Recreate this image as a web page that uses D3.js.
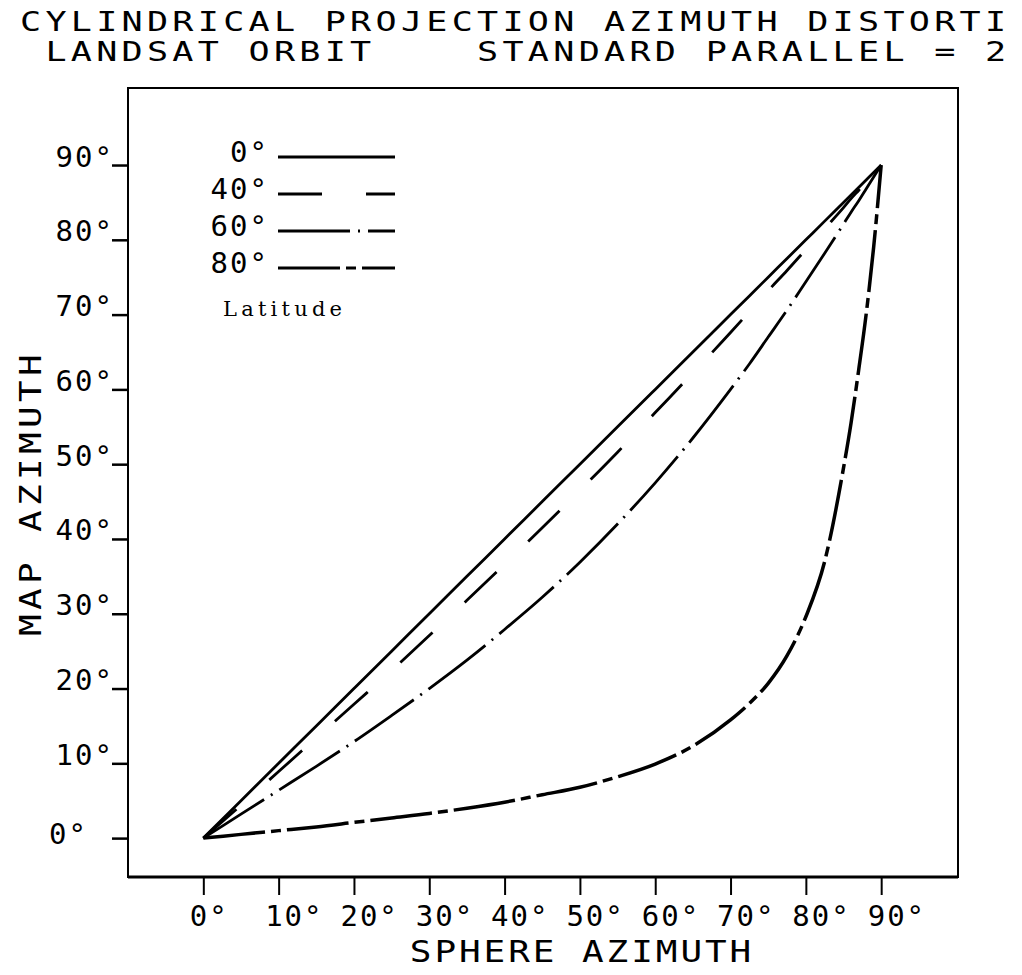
<!DOCTYPE html>
<html>
<head>
<meta charset="utf-8">
<script src="https://cdn.jsdelivr.net/npm/d3@7"></script>
<style>
  body { margin: 0; background: #fff; }
  svg { display: block; }
  text { fill: #000; }
</style>
</head>
<body>
<div id="chart"></div>
<script>
// values
var sphereAz = [0, 5, 10, 15, 20, 25, 30, 35, 40, 45, 50, 55, 60, 65, 70, 72.5, 75, 77.5, 80, 82.5, 85, 86, 87, 88, 89, 90];
var lat0  = [0, 5, 10, 15, 20, 25, 30, 35, 40, 45, 50, 55, 60, 65, 70, 72.5, 75, 77.5, 80, 82.5, 85, 86, 87, 88, 89, 90];
var lat40 = [0, 4.4, 8.9, 13.4, 17.9, 22.4, 27.1, 31.8, 36.6, 41.5, 46.5, 51.6, 56.9, 62.2, 67.6, 70.4, 73.2, 75.9, 78.7, 81.5, 84.3, 85.5, 86.6, 87.7, 88.9, 90];
var lat60 = [0, 3.2, 6.4, 9.6, 12.9, 16.4, 20.0, 23.8, 27.9, 32.2, 36.9, 42.0, 47.5, 53.5, 60.0, 63.4, 67.0, 70.6, 74.4, 78.2, 82.1, 83.7, 85.2, 86.8, 88.4, 90];
var lat80 = [0, 0.5, 1.0, 1.5, 2.1, 2.7, 3.3, 4.0, 4.8, 5.8, 6.8, 8.2, 9.9, 12.3, 15.8, 18.0, 20.7, 24.4, 29.6, 37.0, 49.5, 55.5, 62.5, 70.0, 79.0, 90];

var seriesNames = ['0\u00b0', '40\u00b0', '60\u00b0', '80\u00b0'];
var seriesDash = ['none', '44,44', '72,8,2,8', '62,6,10,6'];
var seriesValues = [lat0, lat40, lat60, lat80];

var xTicks = [0, 10, 20, 30, 40, 50, 60, 70, 80, 90];
var yTicks = [0, 10, 20, 30, 40, 50, 60, 70, 80, 90];

var titleLines = ['CYLINDRICAL PROJECTION AZIMUTH DISTORTI', ' LANDSAT ORBIT    STANDARD PARALLEL = 2'];

var width = 1022, height = 975;
var frame = {left: 128, right: 958, top: 88, bottom: 877};
var mono = '"DejaVu Sans Mono", monospace';

var svg = d3.select('#chart').append('svg')
  .attr('width', width)
  .attr('height', height);

var x = d3.scaleLinear().domain([-10, 100.2]).range([frame.left, frame.right]);
var y = d3.scaleLinear().domain([-5.2, 100.3]).range([frame.bottom, frame.top]);

// plotter-ish lettering: monospace font stretched sideways, fixed pitch
function plotterText(parent, str, px, py, size, pitch, sx, anchor, angle) {
  var ls = pitch / sx - 0.602 * size;
  return parent.append('text')
    .attr('transform', 'translate(' + px + ',' + py + ')' + (angle ? ' rotate(' + angle + ')' : '') + ' scale(' + sx + ',1)')
    .attr('text-anchor', anchor || 'start')
    .style('white-space', 'pre')
    .attr('font-family', mono)
    .attr('font-size', size)
    .attr('letter-spacing', ls)
    .text(str);
}

// title
titleLines.forEach(function(t, i) {
  plotterText(svg, t, 20, 31 + i * 30, 26, 25.4, 1.35, 'start');
});

// frame
svg.append('rect')
  .attr('x', frame.left)
  .attr('y', frame.top)
  .attr('width', frame.right - frame.left)
  .attr('height', frame.bottom - frame.top)
  .attr('fill', 'none')
  .attr('stroke', '#000')
  .attr('stroke-width', 2);
svg.append('line')
  .attr('x1', frame.left).attr('x2', frame.right)
  .attr('y1', frame.bottom).attr('y2', frame.bottom)
  .attr('stroke', '#000').attr('stroke-width', 3);

// x axis along the bottom of the frame
var xAxis = d3.axisBottom(x)
  .tickValues(xTicks)
  .tickSize(18)
  .tickSizeOuter(0)
  .tickFormat(function(d) { return d + '\u00b0'; });

var gx = svg.append('g')
  .attr('transform', 'translate(0,' + frame.bottom + ')')
  .call(xAxis);
gx.select('.domain').remove();
gx.selectAll('.tick line').attr('stroke', '#000').attr('stroke-width', 2);
gx.selectAll('.tick text')
  .attr('text-anchor', 'start')
  .attr('x', -14)
  .attr('y', 49)
  .attr('dy', null)
  .attr('font-family', mono)
  .attr('font-size', 29)
  .attr('letter-spacing', 2);

// y axis along the left of the frame
var yAxis = d3.axisLeft(y)
  .tickValues(yTicks)
  .tickSize(16)
  .tickSizeOuter(0)
  .tickFormat(function(d) { return d + '\u00b0'; });

var gy = svg.append('g')
  .attr('transform', 'translate(' + frame.left + ',0)')
  .call(yAxis);
gy.select('.domain').remove();
gy.selectAll('.tick line').attr('stroke', '#000').attr('stroke-width', 2.5);
gy.selectAll('.tick text')
  .attr('text-anchor', 'end')
  .attr('x', function(d) { return d === 0 ? -40 : -14; })
  .attr('y', function(d) { return d === 0 ? 5 : 1; })
  .attr('dy', null)
  .attr('font-family', mono)
  .attr('font-size', 29)
  .attr('letter-spacing', 2);

// axis titles
plotterText(svg, 'SPHERE AZIMUTH', 582, 962, 30, 24.6, 1.2, 'middle');
plotterText(svg, 'MAP AZIMUTH', 41, 493, 30, 26, 1.2, 'middle', -90);

// curves
var line = d3.line()
  .x(function(d) { return x(d[0]); })
  .y(function(d) { return y(d[1]); })
  .curve(d3.curveMonotoneX);

svg.selectAll('.curve')
  .data(seriesValues)
  .enter().append('path')
  .attr('class', 'curve')
  .attr('d', function(vals) { return line(sphereAz.map(function(a, i) { return [a, vals[i]]; })); })
  .attr('fill', 'none')
  .attr('stroke', '#000')
  .attr('stroke-width', function(d, i) { return i === 3 ? 3.5 : 2.8; })
  .attr('stroke-dasharray', function(d, i) { return seriesDash[i]; });

// legend
var legend = svg.append('g').attr('class', 'legend');
var rows = legend.selectAll('g')
  .data(seriesNames)
  .enter().append('g')
  .attr('transform', function(d, i) { return 'translate(0,' + (157 + i * 37) + ')'; });

rows.append('text')
  .attr('x', 269)
  .attr('y', 5)
  .attr('text-anchor', 'end')
  .attr('font-family', mono)
  .attr('font-size', 29)
  .attr('letter-spacing', 2)
  .text(function(d) { return d; });

rows.append('line')
  .attr('x1', 278).attr('x2', 395)
  .attr('y1', 0).attr('y2', 0)
  .attr('stroke', '#000')
  .attr('stroke-width', 3)
  .attr('stroke-dasharray', function(d, i) { return seriesDash[i]; });

legend.append('text')
  .attr('x', 223)
  .attr('y', 316)
  .attr('font-family', '"DejaVu Serif", serif')
  .attr('font-size', 21)
  .attr('textLength', 119)
  .attr('lengthAdjust', 'spacing')
  .text('Latitude');
</script>
</body>
</html>
